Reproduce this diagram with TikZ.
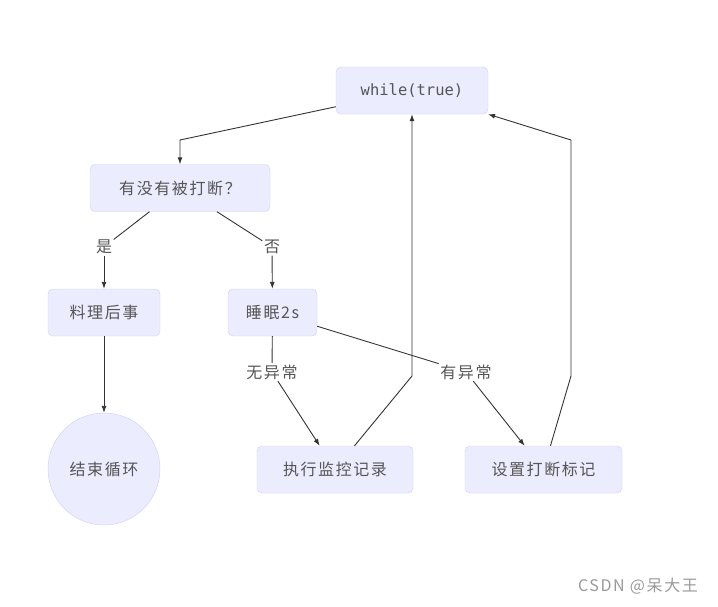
\documentclass[tikz,border=0pt]{standalone}
\usepackage{fontspec}
\setmainfont{Noto Sans CJK SC}[LetterSpace=10]
\newfontfamily\monofont{DejaVu Sans Mono}
\usepackage{tikz}
\usetikzlibrary{arrows.meta,positioning}
\definecolor{NodeFill}{HTML}{ECECFF}
\definecolor{NodeLine}{HTML}{CCCCFF}
\definecolor{Ink}{HTML}{333333}
\definecolor{TextGray}{HTML}{555555}

\begin{document}
\begin{tikzpicture}[x=1pt,y=-1pt,
    box/.style={draw=NodeLine, fill=NodeFill, rectangle, rounded corners=5pt, minimum height=47pt, text=TextGray, font={\fontsize{16}{18}\selectfont}},
    endcircle/.style={draw=NodeLine, fill=NodeFill, circle, minimum size=112pt, text=TextGray, font={\fontsize{16}{18}\selectfont}},
    edgelabel/.style={fill=white, inner sep=1.5pt, text=TextGray, font={\fontsize{16}{18}\selectfont}},
    flow/.style={draw=Ink, line width=0.9pt, -{Latex[length=7pt,width=5pt]}},
    plain/.style={draw=Ink, line width=0.9pt}
    ]
    \useasboundingbox (0,0) rectangle (718,606);

    \node [box, minimum width=152pt, font={\monofont\fontsize{15.5}{18}\selectfont}] (loop) at (412,90.5) {while(true)};
    \node [box, minimum width=180pt] (check) at (180,188) {有没有被打断？};
    \node [box, minimum width=112pt] (cleanup) at (104,312.5) {料理后事};
    \node [box, minimum width=89pt] (sleep) at (272.5,312.5) {睡眠2s};
    \node [endcircle] (finish) at (104,469) {结束循环};
    \node [box, minimum width=156pt] (record) at (335,469.5) {执行监控记录};
    \node [box, minimum width=157pt] (mark) at (543.5,469.5) {设置打断标记};

    \node [edgelabel] (yes) at (104,247) {是};
    \node [edgelabel] (no) at (272,247) {否};
    \node [edgelabel] (normal) at (272,372) {无异常};
    \node [edgelabel] (error) at (466,372) {有异常};

    % bends
    \coordinate (b1) at (180,140);
    \coordinate (b2) at (412,376);
    \coordinate (b3) at (571,376);
    \coordinate (b4) at (571,140);

    \draw[flow] (loop) -- (b1) -- (check);
    \draw[plain] (check) -- (yes);
    \draw[flow] (yes) -- (cleanup);
    \draw[plain] (check) -- (no);
    \draw[flow] (no) -- (sleep);
    \draw[flow] (cleanup) -- (finish);
    \draw[plain] (sleep) -- (normal);
    \draw[flow] (normal) -- (record);
    \draw[plain] (sleep) -- (error);
    \draw[flow] (error) -- (mark);
    \draw[flow] (record) -- (b2) -- (loop);
    \draw[flow] (mark) -- (b3) -- (b4) -- (loop);

    \node [text=black!40, font={\fontsize{16}{18}\selectfont}] (watermark) at (638,586) {CSDN @呆大王};
\end{tikzpicture}
\end{document}
